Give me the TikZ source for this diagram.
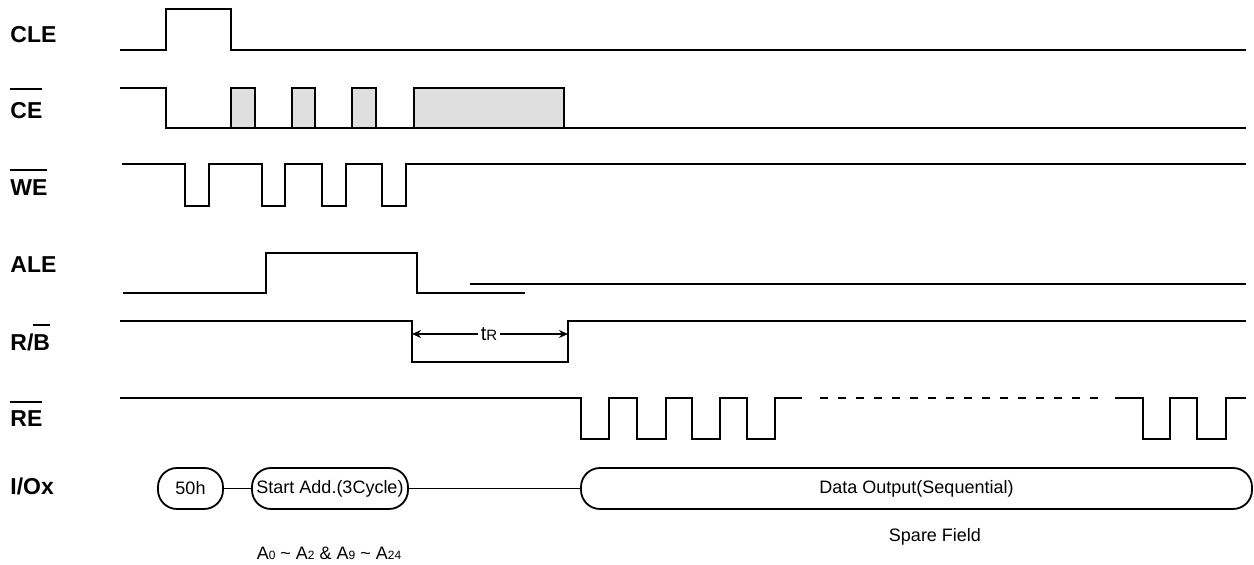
\documentclass[tikz,border=0pt]{standalone}
\usepackage{fontspec}
\setmainfont{Liberation Sans}
\usetikzlibrary{arrows.meta}
% bar over an active-low signal name
\newcommand{\ovl}[2][4.5pt]{\vbox{\hrule height 1.1pt \kern #1\hbox{#2}}}

\begin{document}
\begin{tikzpicture}[x=0.5pt, y=-0.5pt,
    sig/.style={line width=1.1pt},
    siglabel/.style={anchor=base west, inner sep=0pt, font=\fontsize{11.5}{13}\selectfont\bfseries},
    iobox/.style={draw, line width=0.9pt, rounded corners=9.5pt, minimum height=20.5pt, inner sep=0pt, font=\fontsize{9}{11}\selectfont},
    note/.style={inner sep=0pt, font=\fontsize{9}{11}\selectfont}]
    \useasboundingbox (0,0) rectangle (1254,565);

    % Signal names
    \node[siglabel] (cle) at (10,43) {CLE};
    \node[siglabel] (ce) at (10,119) {\ovl[6.5pt]{CE}};
    \node[siglabel] (we) at (10,196) {\ovl{WE}};
    \node[siglabel] (ale) at (10,273) {ALE};
    \node[siglabel] (rb) at (10,351) {R/\ovl{B}};
    \node[siglabel] (re) at (10,427) {\ovl[4pt]{RE}};
    \node[siglabel] (io) at (10,495) {I/Ox};

    % CLE
    \draw[sig] (120,50) -- (166,50) -- (166,9) -- (231,9) -- (231,50) -- (1246,50);

    % CE (shaded = don't care)
    \foreach \a/\b in {231/255, 292/315, 352/376, 414/564}
        \filldraw[sig, fill=gray!25] (\a,128) -- (\a,88) -- (\b,88) -- (\b,128);
    \draw[sig] (120,88) -- (166,88) -- (166,128) -- (1246,128);

    % WE
    \draw[sig] (122,164) \foreach \a/\b in {185/209, 262/285, 322/346, 382/406} {
        -- (\a,164) -- (\a,206) -- (\b,206) -- (\b,164) } -- (1246,164);

    % ALE
    \draw[sig] (123,293) -- (266,293) -- (266,253) -- (417,253) -- (417,293) -- (525,293);
    \draw[sig] (470,284) -- (1246,284);

    % R/B with busy time
    \draw[sig] (120,321) -- (412,321) -- (412,362) -- (568,362) -- (568,321) -- (1246,321);
    \coordinate (trl) at (412,334);
    \coordinate (trr) at (568,334);
    \node[inner sep=1pt] (tr) at (489,334) {\fontsize{10}{12}\selectfont t\fontsize{7.5}{9}\selectfont R};
    \draw[line width=0.8pt, -{Stealth[length=4.5pt, width=4pt]}] (tr.west) -- (trl);
    \draw[line width=0.8pt, -{Stealth[length=4.5pt, width=4pt]}] (tr.east) -- (trr);

    % RE
    \draw[sig] (120,398) \foreach \a/\b in {581/609, 637/666, 692/720, 747/775} {
        -- (\a,398) -- (\a,439) -- (\b,439) -- (\b,398) } -- (802,398);
    \draw[sig, dash pattern=on 4pt off 5pt] (820,398) -- (1106,398);
    \draw[sig] (1115,398) \foreach \a/\b in {1143/1170, 1197/1226} {
        -- (\a,398) -- (\a,439) -- (\b,439) -- (\b,398) } -- (1246,398);

    % I/O bus
    \node[iobox, minimum width=32.5pt] (io50) at (190.5,488.5) {50h};
    \node[iobox, minimum width=78pt] (iostart) at (330,488.5) {Start Add.(3Cycle)};
    \node[iobox, minimum width=335.5pt] (iodata) at (916.5,488.5) {Data Output(Sequential)};
    \draw[line width=0.9pt] (io50) -- (iostart);
    \draw[line width=0.9pt] (iostart) -- (iodata);

    \node[note] (spare) at (935,537) {Spare Field};
    \node[note] (addr) at (329,553)
        {A{\fontsize{6}{7}\selectfont 0} \textasciitilde{} A{\fontsize{6}{7}\selectfont 2} \& A{\fontsize{6}{7}\selectfont 9} \textasciitilde{} A{\fontsize{6}{7}\selectfont 24}};
\end{tikzpicture}
\end{document}
